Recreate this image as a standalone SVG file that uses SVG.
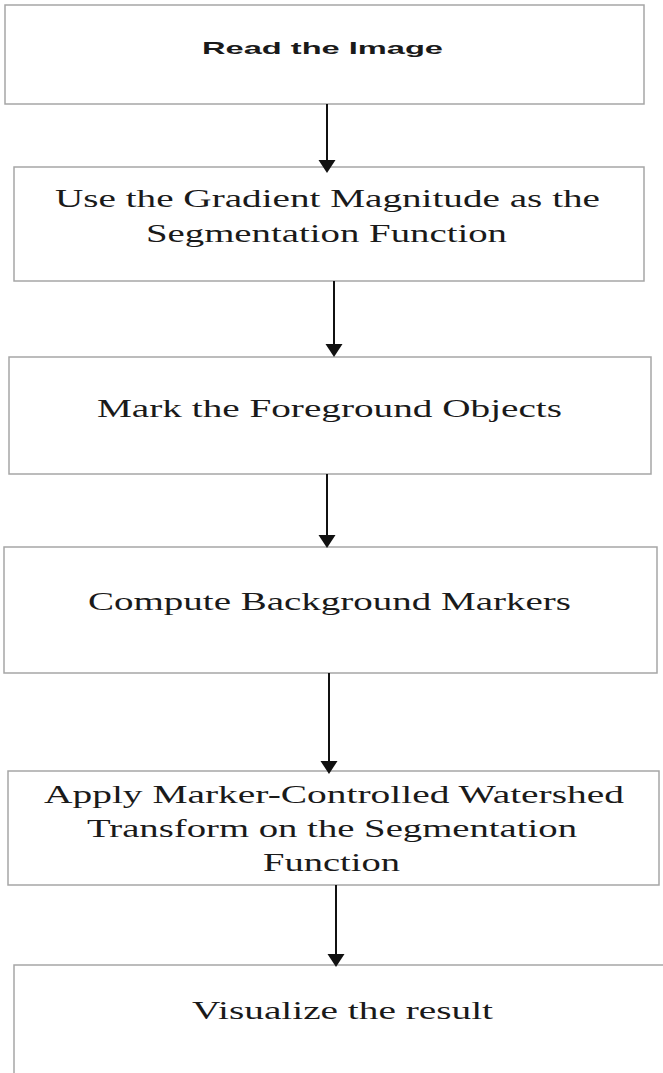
<svg xmlns="http://www.w3.org/2000/svg" width="663" height="1073" viewBox="0 0 663 1073">
<style>
.box{fill:#fff;stroke:#a6a6a6;stroke-width:1.5}
.t{font-family:"Liberation Serif","Times New Roman",serif;font-size:26px;fill:#1a1a1a}
.h{font-family:"Liberation Sans",Arial,sans-serif;font-size:17px;font-weight:bold;fill:#1a1a1a}
.c{stroke:#111;stroke-width:2;fill:none}
</style>
<defs>
<marker id="ah" markerUnits="userSpaceOnUse" viewBox="0 -9 14 18" refX="0" refY="0" markerWidth="14" markerHeight="18" orient="auto">
<path d="M0,-8.5 L13,0 L0,8.5 z" fill="#111"/>
</marker>
</defs>
<rect width="663" height="1073" fill="#fff"/>
<g id="n1"><rect class="box" x="5" y="5" width="639" height="99"/>
<text class="h" x="202" y="54" textLength="241" lengthAdjust="spacingAndGlyphs">Read the Image</text></g>
<g id="n2"><rect class="box" x="14" y="167" width="630" height="114"/>
<text class="t" x="55" y="207" textLength="545" lengthAdjust="spacingAndGlyphs">Use the Gradient Magnitude as the</text>
<text class="t" x="146" y="242" textLength="361" lengthAdjust="spacingAndGlyphs">Segmentation Function</text></g>
<g id="n3"><rect class="box" x="9" y="357" width="642" height="117"/>
<text class="t" x="97" y="417" textLength="465" lengthAdjust="spacingAndGlyphs">Mark the Foreground Objects</text></g>
<g id="n4"><rect class="box" x="4" y="547" width="653" height="126"/>
<text class="t" x="88" y="610" textLength="483" lengthAdjust="spacingAndGlyphs">Compute Background Markers</text></g>
<g id="n5"><rect class="box" x="8" y="771" width="651" height="114"/>
<text class="t" x="44" y="803" textLength="580" lengthAdjust="spacingAndGlyphs">Apply Marker-Controlled Watershed</text>
<text class="t" x="87" y="837" textLength="490" lengthAdjust="spacingAndGlyphs">Transform on the Segmentation</text>
<text class="t" x="263" y="871" textLength="137" lengthAdjust="spacingAndGlyphs">Function</text></g>
<g id="n6"><rect class="box" x="14" y="965" width="665" height="120"/>
<text class="t" x="192" y="1019" textLength="301" lengthAdjust="spacingAndGlyphs">Visualize the result</text></g>
<g id="connectors">
<line class="c" x1="327" y1="104" x2="327" y2="160" marker-end="url(#ah)"/>
<line class="c" x1="334" y1="281" x2="334" y2="344" marker-end="url(#ah)"/>
<line class="c" x1="327" y1="474" x2="327" y2="535" marker-end="url(#ah)"/>
<line class="c" x1="329" y1="673" x2="329" y2="761" stroke-width="4" marker-end="url(#ah)"/>
<line class="c" x1="336" y1="885" x2="336" y2="954" marker-end="url(#ah)"/>
</g>
</svg>
